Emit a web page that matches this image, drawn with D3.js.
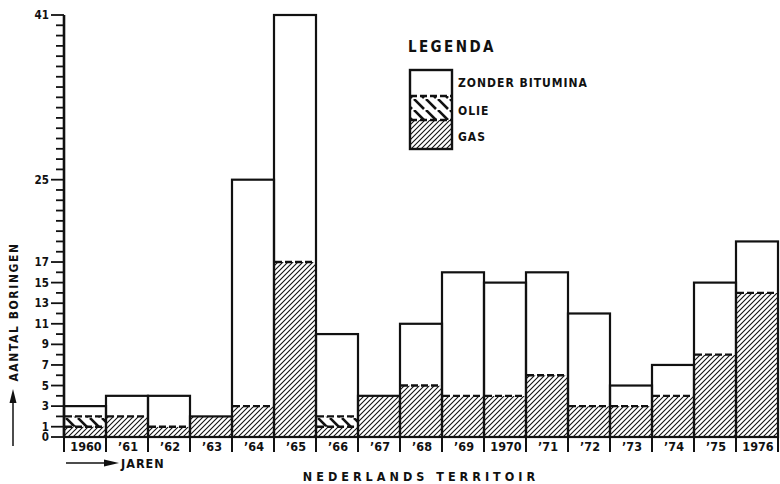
<!DOCTYPE html>
<html>
<head>
<meta charset="utf-8">
<script src="https://cdn.jsdelivr.net/npm/d3@7"></script>
<style>
    body { margin: 0; background: #fff; }
    text { font-family: "DejaVu Sans Condensed", "DejaVu Sans", sans-serif; font-weight: bold; fill: #111; }
</style>
</head>
<body>
<svg id="chart" width="780" height="484"></svg>
<script>
// Data
let years = ['1960', '\u201961', '\u201962', '\u201963', '\u201964', '\u201965', '\u201966', '\u201967',
    '\u201968', '\u201969', '1970', '\u201971', '\u201972', '\u201973', '\u201974', '\u201975', '1976'];
let gas =    [1, 2, 1, 2, 3, 17, 1, 4, 5, 4, 4, 6, 3, 3, 4, 8, 14];
let olie =   [1, 0, 0, 0, 0, 0, 1, 0, 0, 0, 0, 0, 0, 0, 0, 0, 0];
let zonder = [1, 2, 3, 0, 22, 24, 8, 0, 6, 12, 11, 10, 9, 2, 3, 7, 5];
let yLabels = [0, 1, 3, 5, 7, 9, 11, 13, 15, 17, 25, 41];
let legendItems = ['ZONDER BITUMINA', 'OLIE', 'GAS'];

let c = {
    plot: { left: 64, right: 778, top: 15, bottom: 437 },
    ink: '#111'
};

let svg = d3.select('#chart');

// hatch patterns
let defs = svg.append('defs');
defs.append('pattern')
    .attr('id', 'gas')
    .attr('patternUnits', 'userSpaceOnUse')
    .attr('width', 5).attr('height', 5)
    .append('path')
    .attr('d', 'M-1,6 L6,-1 M-1,1 L1,-1 M4,6 L6,4')
    .attr('stroke', c.ink).attr('stroke-width', 1.1);
let olieP = defs.append('pattern')
    .attr('id', 'olie')
    .attr('patternUnits', 'userSpaceOnUse')
    .attr('width', 12).attr('height', 11)
    .attr('patternTransform', translate(c.plot.left + 2, 0));
olieP.append('path')
    .attr('d', 'M0,0 L10,10 M-12,0 L-2,10 M12,0 L22,10')
    .attr('stroke', c.ink).attr('stroke-width', 2.6);

let x = d3.scaleBand()
    .domain(years)
    .range([c.plot.left, c.plot.right])
    .padding(0);

let y = d3.scaleLinear()
    .domain([0, 41])
    .range([c.plot.bottom, c.plot.top]);

// stacked data
let rows = years.map((yr, i) => ({ year: yr, gas: gas[i], olie: olie[i], zonder: zonder[i] }));
let stack = d3.stack().keys(['gas', 'olie', 'zonder'])(rows);

let plot = svg.append('g').attr('id', 'plot');
let fills = { gas: 'url(#gas)', olie: 'url(#olie)', zonder: '#fff' };

stack.forEach(layer => {
    plot.append('g')
        .selectAll('rect')
        .data(layer.filter(d => d[1] > d[0]))
        .join('rect')
        .attr('x', d => x(d.data.year))
        .attr('width', x.bandwidth())
        .attr('y', d => y(d[1]))
        .attr('height', d => y(d[0]) - y(d[1]))
        .attr('fill', fills[layer.key]);
});

// dashed boundaries between segments
let splits = [];
rows.forEach((r, i) => {
    let total = r.gas + r.olie + r.zonder;
    let levels = [r.gas, r.gas + r.olie];
    levels.forEach((lv, k) => {
        if (lv > 0 && lv < total && !(k === 1 && r.olie === 0))
            splits.push({ year: r.year, v: lv });
    });
});
plot.append('g')
    .selectAll('line')
    .data(splits)
    .join('line')
    .attr('x1', d => x(d.year) + 1)
    .attr('x2', d => x(d.year) + x.bandwidth() - 1)
    .attr('y1', d => y(d.v))
    .attr('y2', d => y(d.v))
    .attr('stroke', c.ink)
    .attr('stroke-width', 2.4)
    .attr('stroke-dasharray', '7,3');

// bar outlines
plot.append('g')
    .selectAll('rect')
    .data(rows)
    .join('rect')
    .attr('x', d => x(d.year))
    .attr('width', x.bandwidth())
    .attr('y', d => y(d.gas + d.olie + d.zonder))
    .attr('height', d => y(0) - y(d.gas + d.olie + d.zonder))
    .attr('fill', 'none')
    .attr('stroke', c.ink)
    .attr('stroke-width', 2.2);

// y axis
let axes = svg.append('g').attr('id', 'axes');
axes.append('line')
    .attr('x1', c.plot.left).attr('x2', c.plot.left)
    .attr('y1', c.plot.top).attr('y2', c.plot.bottom + 1)
    .attr('stroke', c.ink).attr('stroke-width', 2.6);
axes.append('line')
    .attr('x1', c.plot.left).attr('x2', c.plot.right)
    .attr('y1', c.plot.bottom).attr('y2', c.plot.bottom)
    .attr('stroke', c.ink).attr('stroke-width', 2.2);

axes.append('g')
    .selectAll('line')
    .data(d3.range(0, 42))
    .join('line')
    .attr('x1', d => yLabels.includes(d) ? 51 : 56)
    .attr('x2', c.plot.left)
    .attr('y1', d => y(d)).attr('y2', d => y(d))
    .attr('stroke', c.ink).attr('stroke-width', 1.8);

axes.append('g')
    .selectAll('text')
    .data(yLabels)
    .join('text')
    .attr('x', 49)
    .attr('y', d => y(d) + 4)
    .attr('text-anchor', 'end')
    .attr('font-size', 11.5)
    .text(d => d);

// x axis separators and labels
axes.append('g')
    .selectAll('line')
    .data(years.concat(['end']))
    .join('line')
    .attr('x1', d => d === 'end' ? c.plot.right : x(d))
    .attr('x2', d => d === 'end' ? c.plot.right : x(d))
    .attr('y1', c.plot.bottom)
    .attr('y2', c.plot.bottom + 15)
    .attr('stroke', c.ink).attr('stroke-width', 2);

axes.append('g')
    .selectAll('text')
    .data(years)
    .join('text')
    .attr('x', d => x(d) + x.bandwidth() / 2 + 1)
    .attr('y', c.plot.bottom + 14)
    .attr('text-anchor', 'middle')
    .attr('font-size', 12.5)
    .text(d => d);

// labels
let labels = svg.append('g').attr('id', 'text');
labels.append('line')
    .attr('x1', 66).attr('x2', 108)
    .attr('y1', 463).attr('y2', 463)
    .attr('stroke', c.ink).attr('stroke-width', 1.5);
labels.append('path')
    .attr('d', 'M104,459.5 L119,463 L104,466.5 Z')
    .attr('fill', c.ink);
labels.append('text')
    .attr('x', 121).attr('y', 468)
    .attr('font-size', 12.5)
    .attr('letter-spacing', 1)
    .text('JAREN');
labels.append('text')
    .attr('x', 421).attr('y', 481)
    .attr('text-anchor', 'middle')
    .attr('font-size', 12.5)
    .attr('letter-spacing', 4)
    .text('NEDERLANDS  TERRITOIR');

labels.append('text')
    .attr('transform', translate(18, 312) + ' rotate(-90)')
    .attr('text-anchor', 'middle')
    .attr('font-size', 12)
    .attr('letter-spacing', 1.6)
    .text('AANTAL  BORINGEN');
labels.append('line')
    .attr('x1', 13).attr('x2', 13)
    .attr('y1', 446).attr('y2', 400)
    .attr('stroke', c.ink).attr('stroke-width', 1.5);
labels.append('path')
    .attr('d', 'M9.5,403 L13,389 L16.5,403 Z')
    .attr('fill', c.ink);

// legend
let legend = svg.append('g').attr('id', 'legend');
legend.append('text')
    .attr('x', 408).attr('y', 52)
    .attr('font-size', 15)
    .attr('font-weight', 'normal')
    .attr('letter-spacing', 2.4)
    .text('LEGENDA');
let lx = 410, lw = 42;
let lBands = [
    { key: 'zonder', y0: 70, y1: 96 },
    { key: 'olie', y0: 96, y1: 120 },
    { key: 'gas', y0: 120, y1: 149 }
];
legend.selectAll('rect.band')
    .data(lBands)
    .join('rect')
    .attr('x', lx).attr('width', lw)
    .attr('y', d => d.y0).attr('height', d => d.y1 - d.y0)
    .attr('fill', d => fills[d.key]);
legend.selectAll('line.split')
    .data(lBands.slice(1))
    .join('line')
    .attr('x1', lx).attr('x2', lx + lw)
    .attr('y1', d => d.y0).attr('y2', d => d.y0)
    .attr('stroke', c.ink).attr('stroke-width', 2.4)
    .attr('stroke-dasharray', '7,3');
legend.append('rect')
    .attr('x', lx).attr('y', 70).attr('width', lw).attr('height', 79)
    .attr('fill', 'none').attr('stroke', c.ink).attr('stroke-width', 2.4);
legend.selectAll('text.item')
    .data(legendItems)
    .join('text')
    .attr('x', 458)
    .attr('y', (d, i) => [87, 115, 141][i])
    .attr('font-size', 12)
    .attr('letter-spacing', 1)
    .text(d => d);

/**
 * Helper to build translate strings
 */
function translate(x, y) {
    return 'translate(' + x + ',' + y + ')';
}
</script>
</body>
</html>
